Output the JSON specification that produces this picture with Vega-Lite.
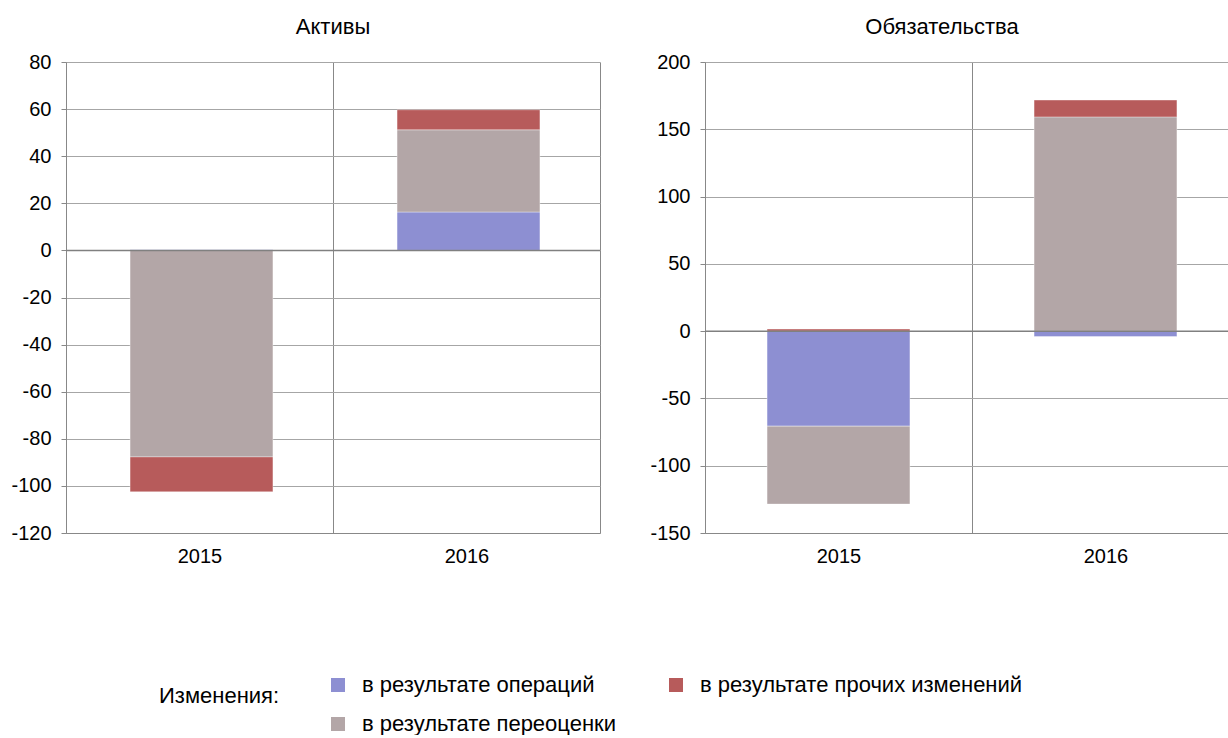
{
  "$schema": "https://vega.github.io/schema/vega-lite/v6.json",
  "background": "white",
  "padding": {"left": 10, "top": 16, "right": 0, "bottom": 0},
  "config": {
    "font": "Liberation Sans",
    "view": {"stroke": null},
    "concat": {"spacing": 48},
    "axis": {
      "labelFont": "Liberation Sans",
      "labelFontSize": 20,
      "labelColor": "#000",
      "domainColor": "#888",
      "tickColor": "#888",
      "gridColor": "#a6a6a6",
      "gridOpacity": 1,
      "labelExpr": "replace(datum.label, '−', '-')"
    },
    "title": {"font": "Liberation Sans", "fontSize": 22, "fontWeight": "normal", "color": "#000", "offset": 13},
    "legend": {"labelFont": "Liberation Sans", "titleFont": "Liberation Sans"}
  },
  "datasets": {
    "d": [
      {"panel": "Активы", "year": "2015", "type": "в результате операций", "ord": 1, "value": 0.3},
      {"panel": "Активы", "year": "2015", "type": "в результате переоценки", "ord": 2, "value": -87.7},
      {"panel": "Активы", "year": "2015", "type": "в результате прочих изменений", "ord": 3, "value": -14.8},
      {"panel": "Активы", "year": "2016", "type": "в результате операций", "ord": 1, "value": 16.3},
      {"panel": "Активы", "year": "2016", "type": "в результате переоценки", "ord": 2, "value": 34.9},
      {"panel": "Активы", "year": "2016", "type": "в результате прочих изменений", "ord": 3, "value": 8.5},
      {"panel": "Обязательства", "year": "2015", "type": "в результате операций", "ord": 1, "value": -70.6},
      {"panel": "Обязательства", "year": "2015", "type": "в результате переоценки", "ord": 2, "value": -57.9},
      {"panel": "Обязательства", "year": "2015", "type": "в результате прочих изменений", "ord": 3, "value": 1.5},
      {"panel": "Обязательства", "year": "2016", "type": "в результате операций", "ord": 1, "value": -4.0},
      {"panel": "Обязательства", "year": "2016", "type": "в результате переоценки", "ord": 2, "value": 159.2},
      {"panel": "Обязательства", "year": "2016", "type": "в результате прочих изменений", "ord": 3, "value": 12.5}
    ]
  },
  "hconcat": [
    {
      "width": 534,
      "height": 471,
      "title": {"text": "Активы"},
      "data": {"name": "d"},
      "transform": [{"filter": "datum.panel === 'Активы'"}],
      "layer": [
        {
          "mark": {"type": "bar", "width": {"band": 0.535}, "xOffset": 2, "stroke": "#ffffff", "strokeOpacity": 0.35, "strokeWidth": 1},
          "encoding": {
            "x": {"field": "year", "type": "ordinal", "scale": {"paddingInner": 0, "paddingOuter": 0},
                  "axis": {"title": null, "labelAngle": 0, "grid": true, "gridColor": "#888", "tickBand": "extent", "ticks": false, "labelPadding": 13, "domain": true}},
            "y": {"field": "value", "type": "quantitative", "stack": "zero",
                  "scale": {"domain": [-120, 80], "nice": false, "zero": false},
                  "axis": {"title": null, "values": [-120, -100, -80, -60, -40, -20, 0, 20, 40, 60, 80], "grid": true, "tickSize": 5, "labelPadding": 10}},
            "color": {"field": "type", "type": "nominal",
                      "scale": {"domain": ["в результате операций", "в результате прочих изменений", "в результате переоценки"], "range": ["#8d8fd2", "#b75b5b", "#b3a6a7"]},
                      "legend": {"title": "Изменения:", "orient": "none", "legendX": 93, "legendY": 612, "direction": "horizontal", "columns": 2,
                                 "titleOrient": "left", "titleAnchor": "start", "titleFontSize": 22, "titleFontWeight": "normal", "titleColor": "#000", "titlePadding": 47,
                                 "titleBaseline": "line-top", "titleLineHeight": 46,
                                 "labelFontSize": 22, "labelColor": "#000", "symbolType": "square", "symbolSize": 196, "symbolStrokeWidth": 0, "labelOffset": 13,
                                 "columnPadding": 49, "rowPadding": 17, "labelLimit": 500}},
            "order": {"field": "ord", "type": "quantitative"}
          }
        },
        {
          "data": {"values": [{"z": 0}]},
          "mark": {"type": "rule", "color": "#808080", "strokeWidth": 1.5},
          "encoding": {"y": {"field": "z", "type": "quantitative"}}
        }
      ]
    },
    {
      "width": 534,
      "height": 471,
      "title": {"text": "Обязательства", "dx": -30},
      "data": {"name": "d"},
      "transform": [{"filter": "datum.panel === 'Обязательства'"}],
      "layer": [
        {
          "mark": {"type": "bar", "width": {"band": 0.535}, "stroke": "#ffffff", "strokeOpacity": 0.35, "strokeWidth": 1},
          "encoding": {
            "x": {"field": "year", "type": "ordinal", "scale": {"paddingInner": 0, "paddingOuter": 0},
                  "axis": {"title": null, "labelAngle": 0, "grid": true, "gridColor": "#888", "tickBand": "extent", "ticks": false, "labelPadding": 13, "domain": true}},
            "y": {"field": "value", "type": "quantitative", "stack": "zero",
                  "scale": {"domain": [-150, 200], "nice": false, "zero": false},
                  "axis": {"title": null, "values": [-150, -100, -50, 0, 50, 100, 150, 200], "grid": true, "tickSize": 5, "labelPadding": 10}},
            "color": {"field": "type", "type": "nominal"},
            "order": {"field": "ord", "type": "quantitative"}
          }
        },
        {
          "data": {"values": [{"z": 0}]},
          "mark": {"type": "rule", "color": "#808080", "strokeWidth": 1.5},
          "encoding": {"y": {"field": "z", "type": "quantitative"}}
        }
      ]
    }
  ],
  "resolve": {"scale": {"color": "shared", "y": "independent", "x": "independent"}}
}
